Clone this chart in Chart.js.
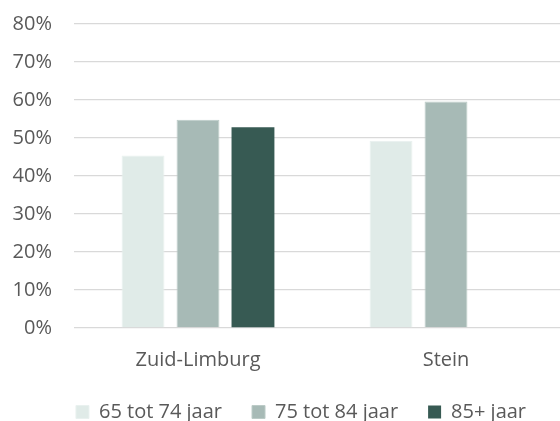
<!DOCTYPE html>
<html>
<head>
<meta charset="utf-8">
<script src="https://cdn.jsdelivr.net/npm/chart.js@4"></script>
<style>
  html, body { margin: 0; padding: 0; background: #fff; overflow: hidden; }
  #wrap { width: 570px; height: 421px; }
</style>
</head>
<body>
<div id="wrap"><canvas id="ageChart" width="570" height="421"></canvas></div>
<script>
// Percentages per region, by age group
const regions = ["Zuid-Limburg", "Stein"];
const age65to74 = [45.4, 49.3];
const age75to84 = [54.8, 59.6];
const age85plus = [52.8, null];
const yTicks = [0, 10, 20, 30, 40, 50, 60, 70, 80];

const textColor = "#595959";
const fontFamily = "'Open Sans', 'Noto Sans', sans-serif";
const fontSize = 20;

// push the legend a bit to the right
const legendShift = {
  id: "legendShift",
  afterLayout(chart) {
    chart.legend.left += 10;
    chart.legend.right += 10;
  },
};

const ctx = document.getElementById("ageChart").getContext("2d");
new Chart(ctx, {
  type: "bar",
  data: {
    labels: regions,
    datasets: [
      {
        label: "65 tot 74 jaar",
        data: age65to74,
        backgroundColor: "#e0ebe8",
        borderColor: "#e9f1ef",
        borderWidth: 1,
      },
      {
        label: "75 tot 84 jaar",
        data: age75to84,
        backgroundColor: "#a7bab6",
        borderColor: "#bccbc7",
        borderWidth: 1,
      },
      {
        label: "85+ jaar",
        data: age85plus,
        backgroundColor: "#375a53",
        borderWidth: 0,
      },
    ],
  },
  plugins: [legendShift],
  options: {
    responsive: false,
    animation: false,
    categoryPercentage: 0.665,
    barPercentage: 0.78,
    layout: { padding: { top: 24, left: 12, right: 0, bottom: 0 } },
    scales: {
      x: {
        grid: { display: false, drawTicks: false },
        border: { display: false },
        ticks: {
          color: textColor,
          font: { family: fontFamily, size: fontSize },
          padding: 20,
        },
        afterFit(axis) {
          axis.height = 44;
        },
      },
      y: {
        min: 0,
        max: 80,
        afterBuildTicks(axis) {
          axis.ticks = yTicks.map((v) => ({ value: v }));
        },
        grid: { color: "#d9d9d9", lineWidth: 1.3, drawTicks: false },
        border: { display: false },
        ticks: {
          color: textColor,
          font: { family: fontFamily, size: fontSize },
          padding: 22,
          callback: (v) => v + "%",
        },
        afterFit(axis) {
          axis.width = 62;
          axis.paddingTop = 0;
          axis.paddingBottom = 0;
        },
      },
    },
    plugins: {
      legend: {
        position: "bottom",
        maxHeight: 49,
        labels: {
          color: textColor,
          font: { family: fontFamily, size: fontSize },
          boxWidth: 13,
          boxHeight: 13,
          padding: 30,
        },
      },
      tooltip: { enabled: false },
    },
  },
});
</script>
</body>
</html>
